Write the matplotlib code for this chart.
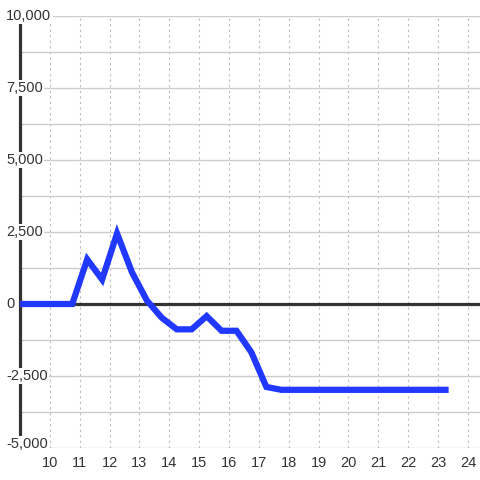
import matplotlib
matplotlib.use("Agg")
import matplotlib.pyplot as plt
from matplotlib.transforms import blended_transform_factory

plt.rcParams['font.family'] = ['Liberation Sans', 'DejaVu Sans']

hours = [9.0, 10.75, 11.25, 11.75, 12.25, 12.75, 13.25, 13.75, 14.25, 14.75,
         15.25, 15.75, 16.25, 16.75, 17.25, 17.75, 18.25, 18.75, 19.25, 19.75,
         20.25, 20.75, 21.25, 21.75, 22.25, 22.75, 23.25]
values = [0, 0, 1550, 850, 2450, 1100, 120, -480, -880, -880,
          -420, -930, -930, -1680, -2880, -2980, -2980, -2980, -2980, -2980,
          -2980, -2980, -2980, -2980, -2980, -2980, -2980]

x_ticks = list(range(10, 25))
y_ticks = [-5000, -3750, -2500, -1250, 0, 1250, 2500, 3750, 5000, 6250, 7500, 8750, 10000]
y_labeled = [-5000, -2500, 0, 2500, 5000, 7500, 10000]

text_color = '#333333'
line_color = '#2038ff'

fig = plt.figure(figsize=(4.8, 4.8), dpi=100)
W = H = 480.0
ax = fig.add_axes([20 / W, 32 / H, 460 / W, 432 / H])
ax.set_xlim(9.0, 9.0 + 460 / 29.86)
ax.set_ylim(-5000, 10000)

for s in ['top', 'right', 'bottom']:
    ax.spines[s].set_visible(False)
ax.spines['left'].set_color(text_color)
ax.spines['left'].set_linewidth(2.3)
ax.spines['left'].set_zorder(2.5)

ax.set_yticks(y_ticks)
ax.set_yticklabels([])
ax.set_xticks(x_ticks)
ax.set_xticklabels([str(t) for t in x_ticks])
ax.tick_params(axis='both', length=0)
ax.tick_params(axis='x', pad=5.5, labelsize=10.5, labelcolor=text_color)

ax.grid(axis='y', color='#cccccc', linewidth=1, linestyle='-')
ax.grid(axis='x', color='#bbbbbb', linewidth=0.8, linestyle=(0, (2, 3)))
ax.set_axisbelow(True)

ax.axhline(0, color=text_color, linewidth=2.3, zorder=2)

ax.plot(hours, values, color=line_color, linewidth=4.5,
        solid_capstyle='projecting', solid_joinstyle='miter', zorder=3)

# y labels sit inside the plot, left aligned, on a white patch
trans = blended_transform_factory(fig.transFigure, ax.transData)
for v in y_labeled:
    va = 'baseline' if v == y_labeled[0] else 'center'
    ax.text(6 / W, v, f"{v:,}", transform=trans, ha='left', va=va,
            fontsize=10.5, color=text_color, zorder=5, clip_on=False,
            bbox=dict(facecolor='white', edgecolor='none', pad=1.0))

fig.savefig("out.png", dpi=100)
